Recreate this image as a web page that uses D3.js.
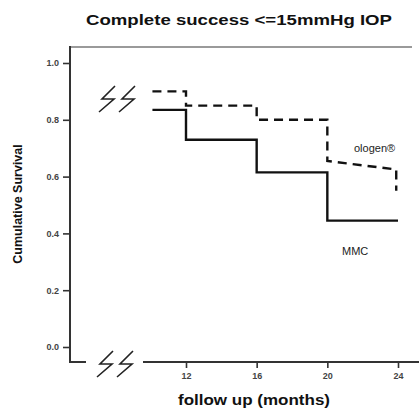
<!DOCTYPE html>
<html>
<head>
<meta charset="utf-8">
<style>
  body { margin: 0; background: #fff; }
  text { font-family: "Liberation Sans", Arial, sans-serif; }
</style>
</head>
<body>
<svg width="419" height="408"></svg>
<script src="https://d3js.org/d3.v7.min.js"></script>
<script>

var svg = d3.select("svg"),
    width = +svg.attr("width"),
    height = +svg.attr("height");

// data
var xTicks = [12, 16, 20, 24],
    yTicks = [0, 0.2, 0.4, 0.6, 0.8, 1.0];

var mmcMonths = [10.1, 12, 12, 16, 16, 20, 20, 24],
    mmcSurv   = [0.835, 0.835, 0.73, 0.73, 0.615, 0.615, 0.445, 0.445];

var ologenMonths = [10.1, 12, 12, 16, 16, 20, 20, 23.9, 23.9],
    ologenSurv   = [0.9, 0.9, 0.85, 0.85, 0.8, 0.8, 0.655, 0.625, 0.55];

var title = "Complete success <=15mmHg IOP",
    xTitle = "follow up (months)",
    yTitle = "Cumulative Survival";

var plotLeft = 70, plotTop = 47, axisY = 362, plotRight = 412;

var x = d3.scaleLinear().domain([12, 24]).range([186, 398]),
    y = d3.scaleLinear().domain([0, 1]).range([347, 63]);

// frame top + left axis
svg.append("line").attr("x1", plotLeft).attr("x2", plotRight).attr("y1", plotTop).attr("y2", plotTop)
    .attr("stroke", "#9a9a9a").attr("stroke-width", 2);
svg.append("line").attr("x1", plotLeft).attr("x2", plotLeft).attr("y1", plotTop - 1).attr("y2", axisY + 1)
    .attr("stroke", "#333").attr("stroke-width", 2);

// x axis line with a break
svg.append("line").attr("x1", plotLeft).attr("x2", 86).attr("y1", axisY).attr("y2", axisY)
    .attr("stroke", "#333").attr("stroke-width", 2);
svg.append("line").attr("x1", 143).attr("x2", width).attr("y1", axisY).attr("y2", axisY)
    .attr("stroke", "#333").attr("stroke-width", 2);

var yAxis = svg.append("g")
    .attr("transform", "translate(" + plotLeft + ",0)")
    .call(d3.axisLeft(y).tickValues(yTicks).tickSize(7).tickPadding(4).tickFormat(d3.format(".1f")));
yAxis.select(".domain").remove();

var xAxis = svg.append("g")
    .attr("transform", "translate(0," + axisY + ")")
    .call(d3.axisBottom(x).tickValues(xTicks).tickSize(6).tickPadding(5));
xAxis.select(".domain").remove();

svg.selectAll(".tick line").attr("stroke", "#333").attr("stroke-width", 1.6);
svg.selectAll(".tick text")
    .style("font-size", "9px").style("font-weight", "bold").attr("fill", "#444");

// break marks
function breakMark(x0, y0) {
  var g = svg.append("g").attr("transform", "translate(" + x0 + "," + y0 + ")");
  [0, 20].forEach(function(dx) {
    g.append("path")
      .attr("d", "M" + (dx + 15) + ",0 L" + (dx + 2) + ",13 L" + (dx + 14) + ",13 L" + (dx - 1) + ",26")
      .attr("fill", "none").attr("stroke", "#222").attr("stroke-width", 1.6);
  });
}
breakMark(98, 351);
breakMark(100, 86);

// survival curves
var line = d3.line()
    .x(function(d) { return x(d[0]); })
    .y(function(d) { return y(d[1]); });

svg.append("path")
    .datum(d3.zip(mmcMonths, mmcSurv))
    .attr("d", line)
    .attr("fill", "none").attr("stroke", "#111").attr("stroke-width", 2.4);

svg.append("path")
    .datum(d3.zip(ologenMonths, ologenSurv))
    .attr("d", line)
    .attr("fill", "none").attr("stroke", "#111").attr("stroke-width", 2.4)
    .attr("stroke-dasharray", "9,6");

// labels
svg.append("text").attr("x", 354).attr("y", 152)
    .style("font-size", "11px").attr("fill", "#222")
    .text("ologen\u00ae");
svg.append("text").attr("x", 342).attr("y", 255)
    .style("font-size", "11px").attr("fill", "#222")
    .text("MMC");

svg.append("text").attr("x", 239).attr("y", 25).attr("text-anchor", "middle")
    .attr("textLength", 306).attr("lengthAdjust", "spacingAndGlyphs")
    .style("font-size", "15px").style("font-weight", "bold").attr("fill", "#111")
    .text(title);

svg.append("text").attr("x", 254).attr("y", 405).attr("text-anchor", "middle")
    .attr("textLength", 152).attr("lengthAdjust", "spacingAndGlyphs")
    .style("font-size", "15px").style("font-weight", "bold").attr("fill", "#111")
    .text(xTitle);

svg.append("text")
    .attr("transform", "translate(22,204) rotate(-90)").attr("text-anchor", "middle")
    .style("font-size", "12.5px").style("font-weight", "bold").attr("fill", "#111")
    .text(yTitle);

</script>
</body>
</html>
